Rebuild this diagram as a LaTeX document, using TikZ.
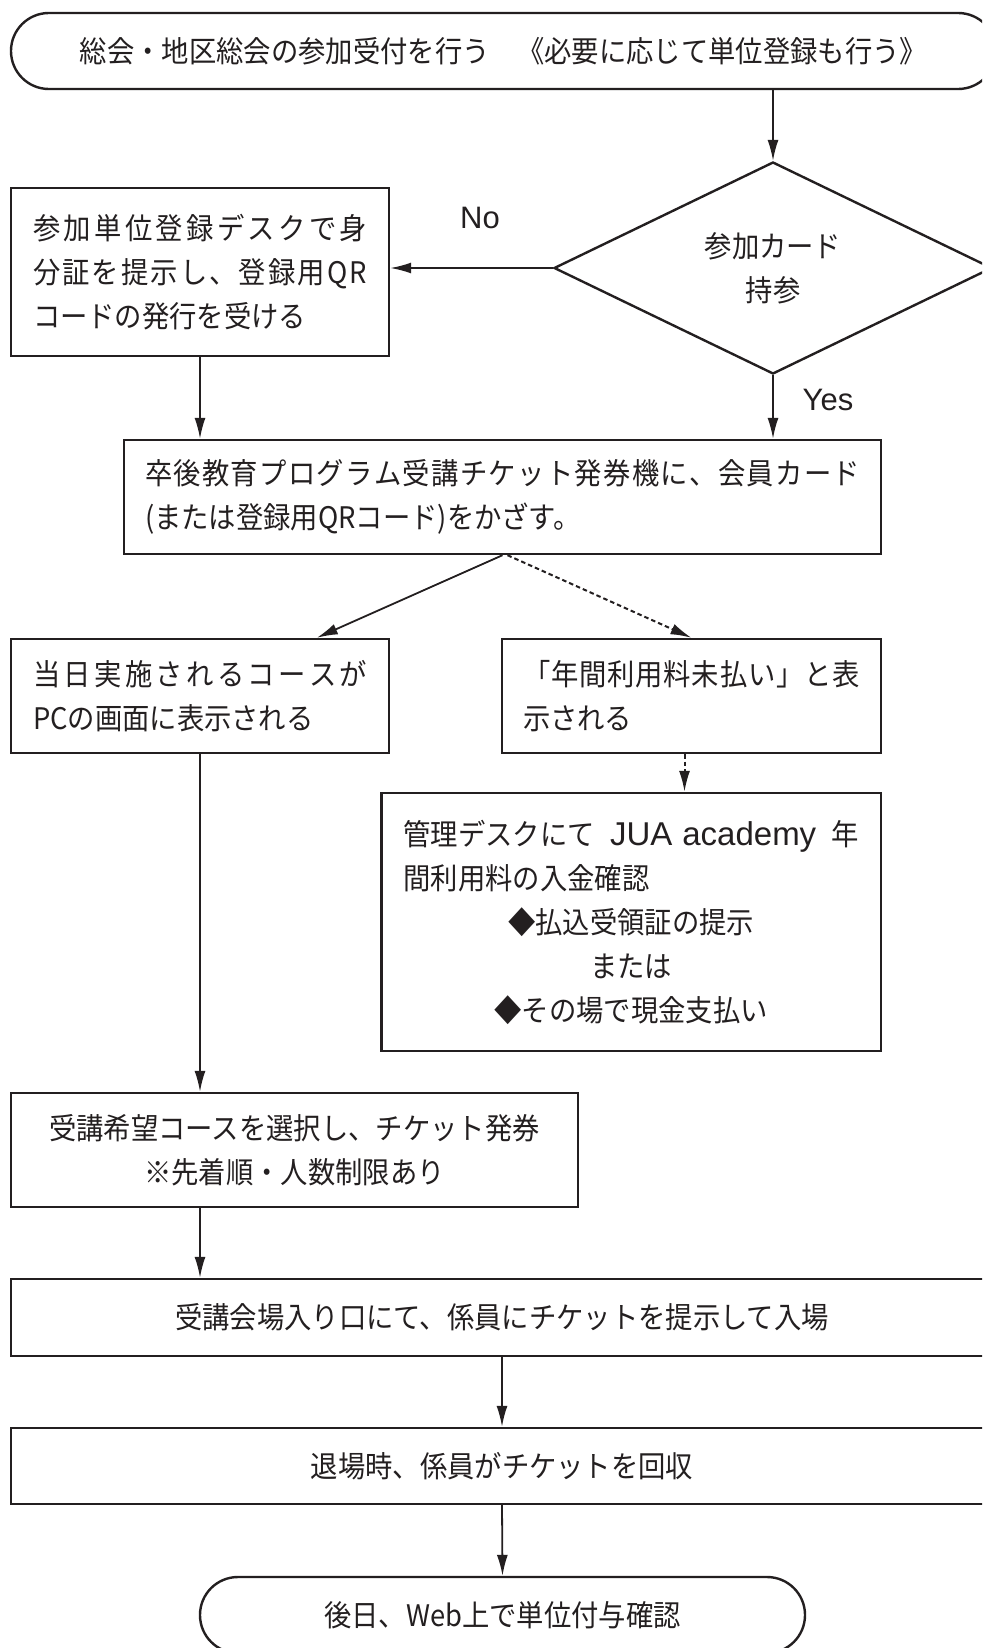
\documentclass[tikz,border=0pt]{standalone}
\usepackage{fontspec}
\setmainfont{Noto Sans CJK JP}[FakeStretch=0.92]
\newfontfamily\latfont{Liberation Sans}
\usetikzlibrary{shapes.geometric,arrows.meta,calc}
\definecolor{ink}{HTML}{231F20}
\newcommand\jpsize{\fontsize{29.7}{44}\selectfont}
\def\jlend{}
\newcommand\jline[1]{\makebox[\hsize][s]{\jlfirst#1\jlend}}
\def\jlfirst#1{#1\jlrest}
\def\jlrest#1{\ifx#1\jlend\else\hfil#1\expandafter\jlrest\fi}
\begin{document}
\begin{tikzpicture}[x=1pt,y=-1pt,
  box/.style={draw=ink, line width=2.4pt, rectangle, inner ysep=0pt, font=\jpsize, text=ink},
  term/.style={draw=ink, line width=2.4pt, rectangle, rounded corners=37.9pt, inner sep=0pt, font=\jpsize, text=ink},
  dec/.style={draw=ink, line width=2.4pt, diamond, inner sep=0pt, font=\jpsize, text=ink, align=center},
  lbl/.style={font=\latfont\fontsize{31}{36}\selectfont, text=ink, inner sep=0pt},
  arr/.style={draw=ink, line width=1.8pt, -{Latex[length=21pt,width=11pt]}},
  darr/.style={arr, line width=2pt, dash pattern=on 4.5pt off 3pt}]
\useasboundingbox (0,0) rectangle (982,1648);
\clip (0,0) rectangle (982,1648);

\node[term, minimum width=985pt, minimum height=76pt] (start) at (503.5,51)
  {総会・地区総会の参加受付を行う　《必要に応じて単位登録も行う》};
\node[dec, minimum width=438pt, minimum height=212pt] (dia) at (773,268)
  {参加カード\\持参};
\node[box, text width=334pt, inner xsep=22pt, minimum height=168pt, align=left] (reg) at (200,272)
  {\jline{参加単位登録デスクで身}\\\jline{分証を提示し、登録用QR}\\コードの発行を受ける};
\node[box, text width=715pt, inner xsep=21pt, minimum height=114pt, align=left] (main) at (502.5,497)
  {\jline{卒後教育プログラム受講チケット発券機に、会員カード}\\(または登録用QRコード)をかざす。};
\node[box, text width=334pt, inner xsep=22pt, minimum height=114pt, align=left] (today) at (200,696)
  {\jline{当日実施されるコースが}\\PCの画面に表示される};
\node[box, text width=337pt, inner xsep=21pt, minimum height=114pt, align=left] (unpaid) at (691.5,696)
  {\jline{「年間利用料未払い」と表}\\示される};
\node[box, text width=455.5pt, inner xsep=22pt, minimum height=258pt, align=center] (mgmt) at (631.25,922)
  {\makebox[\hsize][s]{管理デスクにて\hfil\mbox{\latfont\fontsize{33}{44}\selectfont JUA academy}\hfil 年}\\\makebox[\hsize][l]{間利用料の入金確認}\\◆払込受領証の提示\\または\\◆その場で現金支払い};
\node[box, text width=523pt, inner xsep=22pt, minimum height=114pt, align=center] (select) at (294.5,1150)
  {受講希望コースを選択し、チケット発券\\※先着順・人数制限あり};
\node[box, text width=938pt, inner xsep=22pt, minimum height=77pt, align=center] (entr) at (502,1317.5)
  {受講会場入り口にて、係員にチケットを提示して入場};
\node[box, text width=938pt, inner xsep=22pt, minimum height=76pt, align=center] (exit) at (502,1466)
  {退場時、係員がチケットを回収};
\node[term, minimum width=605pt, minimum height=76pt] (end) at (502.5,1615)
  {後日、Web上で単位付与確認};

\node[lbl] (no) at (480,218) {No};
\node[lbl] (yes) at (828,400) {Yes};

\coordinate (u1) at ($(unpaid.south)+(-7,0)$);
\coordinate (m1) at ($(main.south)+(5,0)$);

\draw[arr] (dia.north |- start.south) -- (dia.north);
\draw[arr] (dia.west) -- (dia.west -| reg.east);
\draw[arr] (reg.south) -- (reg.south |- main.north);
\draw[arr] (dia.south) -- (dia.south |- main.north);
\draw[arr] (main.south) -- ($(today.north west)!0.807!(today.north east)$);
\draw[darr] (m1) -- (unpaid.north);
\draw[darr] (u1) -- (u1 |- mgmt.north);
\draw[arr] (today.south) -- (today.south |- select.north);
\draw[arr] (today.south |- select.south) -- (today.south |- entr.north);
\draw[arr] (entr.south) -- (exit.north);
\draw[arr] (exit.south) -- (end.north);
\end{tikzpicture}
\end{document}
